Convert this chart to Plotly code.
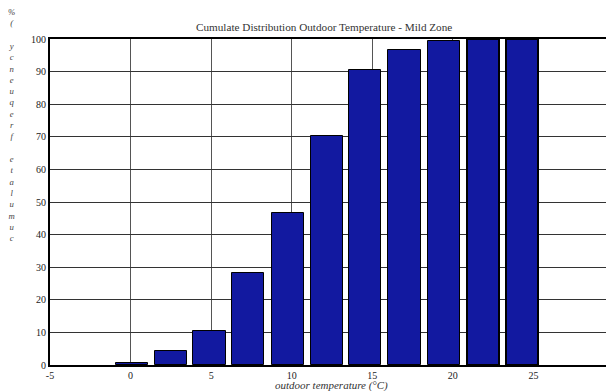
import plotly.graph_objects as go

# Data
temperature = [0.1, 2.5, 4.9, 7.3, 9.75, 12.2, 14.55, 17.0, 19.45, 21.85, 24.3]
cumulative_pct = [0.7, 4.2, 10.3, 28.2, 46.6, 70.3, 90.5, 96.5, 99.3, 100, 100]
x_ticks = [-5, 0, 5, 10, 15, 20, 25, 30]
y_ticks = [0, 10, 20, 30, 40, 50, 60, 70, 80, 90, 100]

title_text = "Cumulate Distribution Outdoor Temperature - Mild Zone"
x_title = "outdoor temperature (°C)"
y_title = "cumulate frequency (%"

FONT = "Liberation Serif, Times New Roman, serif"

# The page body has an 8px margin: size the figure so it fits the window.
W, H = 606, 383
OFF = 8
L, T = 42, 31
B = 26
R = 0
PW = W - L - R
PH = H - T - B


def fx(px):
    return (px - OFF - L) / PW


def fy(py):
    return (H - B - (py - OFF)) / PH


outline_widths = [1] * 9 + [2, 2]

fig = go.Figure()
fig.add_trace(go.Bar(
    x=temperature,
    y=cumulative_pct,
    width=2.0,
    marker=dict(color="#1219A0", line=dict(color="black", width=outline_widths)),
))

# Stacked, reversed-order y-axis label (as in the reference)
stacked = "<br>".join(list(y_title)[::-1])

fig.update_layout(
    width=W,
    height=H,
    margin=dict(l=L, r=R, t=T, b=B, autoexpand=False),
    paper_bgcolor="white",
    plot_bgcolor="white",
    showlegend=False,
    bargap=0,
    font=dict(family=FONT, size=10, color="#222"),
    xaxis=dict(
        range=[-5, 30],
        tickvals=x_ticks,
        ticktext=[str(v) for v in x_ticks],
        ticklabeloverflow="allow",
        showgrid=True,
        gridcolor="#555",
        gridwidth=1,
        showline=True,
        linecolor="black",
        linewidth=2,
        mirror=True,
        zeroline=False,
        ticks="",
        tickfont=dict(family=FONT, size=10, color="#222"),
    ),
    yaxis=dict(
        range=[0, 100],
        tickvals=y_ticks,
        showgrid=True,
        gridcolor="#333",
        gridwidth=1,
        showline=True,
        linecolor="black",
        linewidth=2,
        zeroline=False,
        ticks="",
        tickfont=dict(family=FONT, size=10, color="#222"),
    ),
    annotations=[
        dict(text=title_text, xref="paper", yref="paper", x=fx(324), y=fy(27),
             xanchor="center", yanchor="middle", showarrow=False,
             font=dict(family=FONT, size=11.2, color="#333")),
        dict(text="<i>" + x_title + "</i>", xref="paper", yref="paper", x=fx(331), y=fy(385),
             xanchor="center", yanchor="middle", showarrow=False,
             font=dict(family=FONT, size=11, color="#333")),
        dict(text="<i>" + stacked + "</i>", xref="paper", yref="paper", x=fx(11), y=fy(125),
             xanchor="center", yanchor="middle", showarrow=False, align="center",
             font=dict(family=FONT, size=8.7, color="#444")),
    ],
)

fig.write_html("out.html")
